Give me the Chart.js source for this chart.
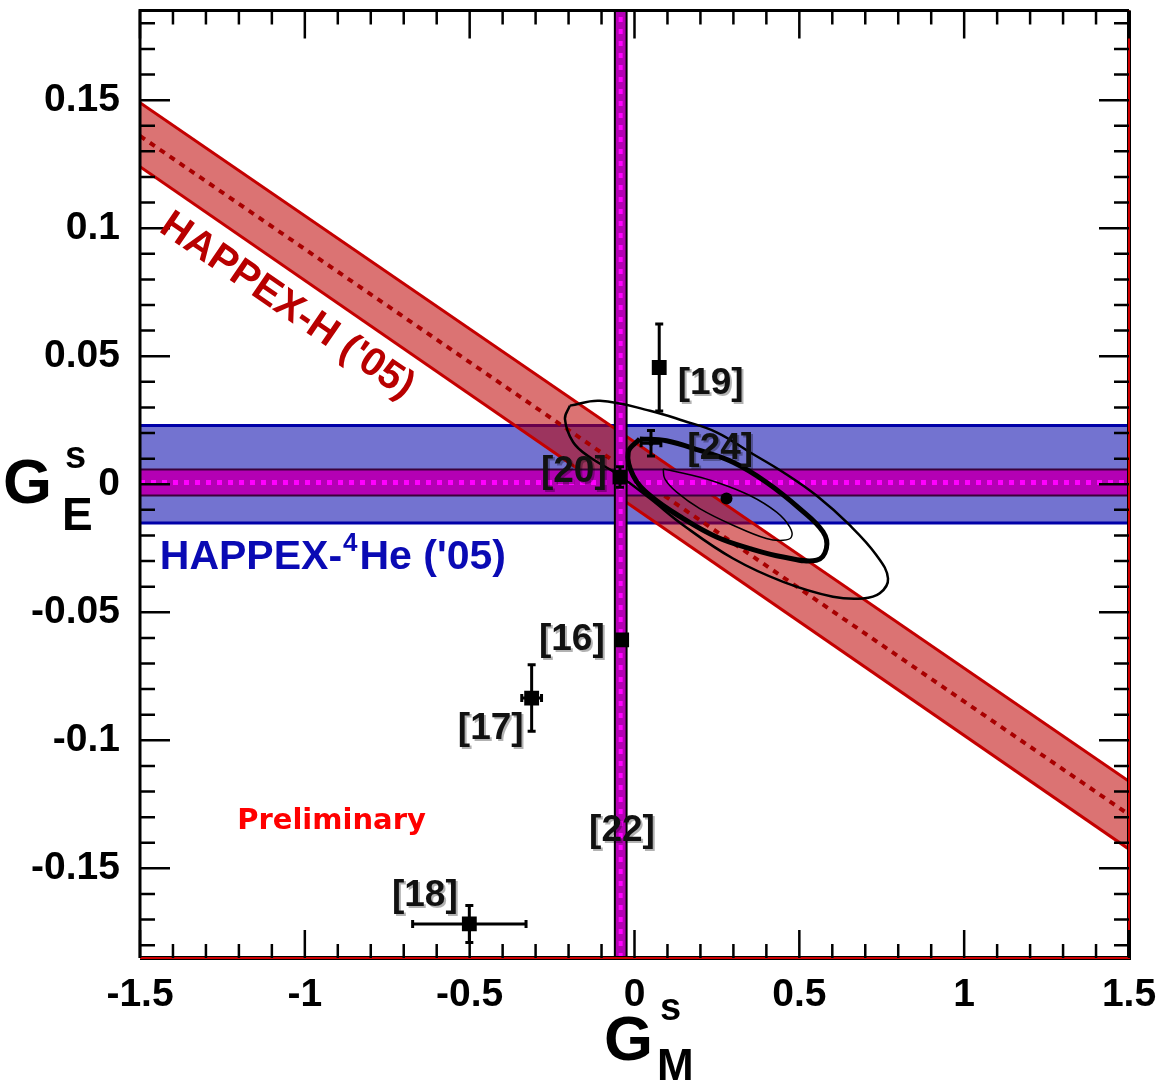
<!DOCTYPE html>
<html>
<head>
<meta charset="utf-8">
<script src="https://cdn.jsdelivr.net/npm/chart.js@4.4.1/dist/chart.umd.min.js"></script>
<style>
  html, body { margin: 0; padding: 0; background: #fff; }
  #wrap { width: 1159px; height: 1083px; }
</style>
</head>
<body>
<div id="wrap"><canvas id="myChart" width="1159" height="1083"></canvas></div>
<script>
// axes
const gmRange = [-1.5, 1.5];
const geRange = [-0.185, 0.185];
const gmTicks = [-1.5, -1, -0.5, 0, 0.5, 1, 1.5];
const gmTickLabels = ['-1.5', '-1', '-0.5', '0', '0.5', '1', '1.5'];
const geTicks = [-0.15, -0.1, -0.05, 0, 0.05, 0.1, 0.15];
const geTickLabels = ['-0.15', '-0.1', '-0.05', '0', '0.05', '0.1', '0.15'];

// HAPPEX-H ('05) band, GE at the two GM ends
const hydrogenGM = [-1.5, 1.5];
const hydrogenUpper = [0.149, -0.116];
const hydrogenCentral = [0.136, -0.129];
const hydrogenLower = [0.124, -0.1425];

// horizontal bands: low, central, high
const helium05 = [-0.0151, 0.0039, 0.0229];
const helium07 = [-0.0044, 0.0007, 0.0058];
// vertical band [22]: low, central, high GM
const gmBand22 = [-0.0596, -0.042, -0.024];

// other measurements
const refNames = ['[16]', '[17]', '[18]', '[19]', '[20]', '[24]'];
const refGM = [-0.039, -0.312, -0.501, 0.075, -0.044, 0.05];
const refGE = [-0.0608, -0.0835, -0.1717, 0.0456, 0.0028, 0.016];
const refErrGM = [0, 0.03, 0.172, 0, 0, 0.03];
const refErrGE = [0, 0.013, 0.0072, 0.017, 0.004, 0.005];

// combined fit
const fitGM = [0.279];
const fitGE = [-0.0056];

// contours
const outerGM = [-0.196, -0.105, 0.047, 0.148, 0.249, 0.350, 0.451, 0.552, 0.653, 0.734, 0.769, 0.744, 0.693, 0.602, 0.451, 0.299, 0.148, 0.047, -0.054, -0.135, -0.186, -0.211, -0.196];
const outerGE = [0.0307, 0.0326, 0.0287, 0.0248, 0.0203, 0.0125, 0.0047, -0.0044, -0.016, -0.0277, -0.0368, -0.0426, -0.0446, -0.0439, -0.0381, -0.029, -0.016, -0.0056, 0.0041, 0.0105, 0.0164, 0.0255, 0.0307];
const midGM = [0.016, 0.097, 0.198, 0.299, 0.400, 0.501, 0.572, 0.582, 0.552, 0.451, 0.350, 0.249, 0.148, 0.047, -0.004, -0.019, 0.016];
const midGE = [0.0177, 0.017, 0.0132, 0.0086, 0.0008, -0.0095, -0.0186, -0.0251, -0.0297, -0.0284, -0.0251, -0.0206, -0.0134, -0.0044, 0.0034, 0.0125, 0.0177];
const innerGM = [0.087, 0.168, 0.249, 0.350, 0.431, 0.471, 0.476, 0.451, 0.400, 0.299, 0.198, 0.128, 0.092, 0.087];
const innerGE = [0.006, 0.0037, 0.0008, -0.0044, -0.0109, -0.0167, -0.0206, -0.0219, -0.0212, -0.016, -0.0095, -0.0031, 0.0021, 0.006];

// text labels, placed in data coordinates
const labelText = ['[16]', '[17]', '[18]', '[19]', '[20]', '[24]', '[22]'];
const labelGM = [-0.190, -0.436, -0.636, 0.231, -0.184, 0.260, -0.038];
const labelGE = [-0.0608, -0.0954, -0.1608, 0.0394, 0.005, 0.0139, -0.1355];

function pts(gm, ge) {
    return gm.map((v, i) => ({x: v, y: ge[i]}));
}

function band(data, fill, order) {
    return {data: data, showLine: true, fill: 'shape', backgroundColor: fill,
            borderColor: 'rgba(0,0,0,0)', borderWidth: 0, pointRadius: 0, order: order};
}

function edge(data, color, width, dash, order) {
    return {data: data, showLine: true, fill: false, borderColor: color, borderWidth: width,
            borderDash: dash || [], pointRadius: 0, order: order};
}

function contour(gm, ge, width) {
    return {data: pts(gm, ge), showLine: true, fill: false, borderColor: '#000', borderWidth: width,
            tension: 0.4, pointRadius: 0, order: 5};
}

const H = hydrogenGM;

// higher order is drawn first: blue band, then red band, then the magenta bands
let datasets = [
    band(pts([gmRange[0], gmRange[1], gmRange[1], gmRange[0]], [helium05[2], helium05[2], helium05[0], helium05[0]]), 'rgba(0,0,170,0.55)', 31),
    edge(pts(gmRange, [helium05[2], helium05[2]]), '#0000a8', 3, null, 30),
    edge(pts(gmRange, [helium05[0], helium05[0]]), '#0000a8', 3, null, 30),

    band(pts([H[0], H[1], H[1], H[0]], [hydrogenUpper[0], hydrogenUpper[1], hydrogenLower[1], hydrogenLower[0]]), 'rgba(190,0,0,0.55)', 29),
    edge(pts(H, hydrogenUpper), '#c40000', 3, null, 28),
    edge(pts(H, hydrogenLower), '#c40000', 3, null, 28),
    edge(pts(H, hydrogenCentral), '#a80000', 4, [6, 6], 27),

    band(pts([gmRange[0], gmRange[1], gmRange[1], gmRange[0]], [helium07[2], helium07[2], helium07[0], helium07[0]]), '#b400b4', 25),
    edge(pts(gmRange, [helium07[2], helium07[2]]), '#3a003a', 2, null, 24),
    edge(pts(gmRange, [helium07[0], helium07[0]]), '#3a003a', 2, null, 24),
    edge(pts(gmRange, [helium07[1], helium07[1]]), '#ff00ff', 5, [5, 6], 23),

    band(pts([gmBand22[0], gmBand22[0], gmBand22[2], gmBand22[2]], [geRange[0], geRange[1], geRange[1], geRange[0]]), '#b400b4', 22),
    edge(pts([gmBand22[0], gmBand22[0]], geRange), '#000', 2, null, 21),
    edge(pts([gmBand22[2], gmBand22[2]], geRange), '#000', 2, null, 21),
    edge(pts([gmBand22[1], gmBand22[1]], geRange), '#ff00ff', 4, [5, 7], 20),

    contour(outerGM, outerGE, 2.5),
    contour(midGM, midGE, 5),
    contour(innerGM, innerGE, 1.5),

    {data: pts(refGM, refGE), showLine: false, pointStyle: 'rect', pointRadius: [10.5, 10.5, 10.5, 10.5, 10.5, 3],
     backgroundColor: '#000', borderWidth: 0, order: 1},
    {data: pts(fitGM, fitGE), showLine: false, pointStyle: 'circle', pointRadius: 6,
     backgroundColor: '#000', borderWidth: 0, order: 1}
];

function text(ctx, s, x, y, font, color, align, base) {
    ctx.font = font;
    ctx.fillStyle = color;
    ctx.textAlign = align || 'center';
    ctx.textBaseline = base || 'middle';
    ctx.fillText(s, x, y);
}

const decorations = {
    id: 'decorations',
    afterDatasetsDraw(chart) {
        const ctx = chart.ctx;
        const a = chart.chartArea;
        const x = chart.scales.x;
        const y = chart.scales.y;
        ctx.save();

        // error bars
        ctx.strokeStyle = '#000';
        ctx.lineWidth = 3;
        refGM.forEach((gm, i) => {
            let px = x.getPixelForValue(gm);
            let py = y.getPixelForValue(refGE[i]);
            if (refErrGE[i] > 0) {
                let y1 = y.getPixelForValue(refGE[i] + refErrGE[i]);
                let y2 = y.getPixelForValue(refGE[i] - refErrGE[i]);
                ctx.beginPath();
                ctx.moveTo(px, y1); ctx.lineTo(px, y2);
                ctx.moveTo(px - 4, y1); ctx.lineTo(px + 4, y1);
                ctx.moveTo(px - 4, y2); ctx.lineTo(px + 4, y2);
                ctx.stroke();
            }
            if (refErrGM[i] > 0) {
                let x1 = x.getPixelForValue(gm - refErrGM[i]);
                let x2 = x.getPixelForValue(gm + refErrGM[i]);
                ctx.beginPath();
                ctx.moveTo(x1, py); ctx.lineTo(x2, py);
                ctx.moveTo(x1, py - 4); ctx.lineTo(x1, py + 4);
                ctx.moveTo(x2, py - 4); ctx.lineTo(x2, py + 4);
                ctx.stroke();
            }
        });

        // frame
        ctx.lineWidth = 3;
        ctx.strokeStyle = '#000';
        ctx.beginPath();
        ctx.moveTo(a.left, a.bottom); ctx.lineTo(a.left, a.top); ctx.lineTo(a.right, a.top);
        ctx.stroke();
        ctx.lineWidth = 4;
        ctx.beginPath();
        ctx.moveTo(a.left, a.bottom); ctx.lineTo(a.right, a.bottom); ctx.lineTo(a.right, a.top);
        ctx.stroke();
        ctx.strokeStyle = '#d00000';
        ctx.lineWidth = 2;
        ctx.stroke();

        // inward ticks on all four sides
        ctx.strokeStyle = '#000';
        ctx.lineWidth = 2.5;
        ctx.beginPath();
        for (let k = -15; k <= 15; k++) {
            let px = x.getPixelForValue(k / 10);
            let len = (k % 5 === 0) ? 28 : 14;
            ctx.moveTo(px, a.bottom); ctx.lineTo(px, a.bottom - len);
            ctx.moveTo(px, a.top); ctx.lineTo(px, a.top + len);
        }
        for (let k = -18; k <= 18; k++) {
            let py = y.getPixelForValue(k / 100);
            let len = (k % 5 === 0) ? 30 : 15;
            ctx.moveTo(a.left, py); ctx.lineTo(a.left + len, py);
            ctx.moveTo(a.right, py); ctx.lineTo(a.right - len, py);
        }
        ctx.stroke();

        // reference labels
        ctx.shadowColor = 'rgba(0,0,0,0.3)';
        ctx.shadowOffsetX = 2;
        ctx.shadowOffsetY = 2;
        labelText.forEach((s, i) => {
            text(ctx, s, x.getPixelForValue(labelGM[i]), y.getPixelForValue(labelGE[i]),
                 'bold 37px "Liberation Sans"', '#111');
        });
        ctx.shadowColor = 'transparent';

        // HAPPEX-H label along the band
        let bx1 = x.getPixelForValue(H[0]), by1 = y.getPixelForValue(hydrogenCentral[0]);
        let bx2 = x.getPixelForValue(H[1]), by2 = y.getPixelForValue(hydrogenCentral[1]);
        ctx.save();
        ctx.translate(x.getPixelForValue(-1.054), y.getPixelForValue(0.0696));
        ctx.rotate(Math.atan2(by2 - by1, bx2 - bx1));
        text(ctx, "HAPPEX-H ('05)", 0, 0, 'bold 40px "Liberation Sans"', '#b80000');
        ctx.restore();

        // HAPPEX-4He label
        let hx = x.getPixelForValue(-1.44);
        let hy = y.getPixelForValue(-0.0329);
        ctx.font = 'bold 41px "Liberation Sans"';
        let w1 = ctx.measureText('HAPPEX-').width;
        text(ctx, 'HAPPEX-', hx, hy, 'bold 41px "Liberation Sans"', '#0a0ab4', 'left', 'alphabetic');
        text(ctx, '4', hx + w1 + 1, hy - 18, 'bold 26px "Liberation Sans"', '#0a0ab4', 'left', 'alphabetic');
        ctx.font = 'bold 26px "Liberation Sans"';
        let w2 = ctx.measureText('4').width;
        text(ctx, "He ('05)", hx + w1 + w2 + 3, hy, 'bold 41px "Liberation Sans"', '#0a0ab4', 'left', 'alphabetic');

        text(ctx, 'Preliminary', x.getPixelForValue(-0.919), y.getPixelForValue(-0.1316),
             'bold 29px "DejaVu Sans"', '#ff0000');

        ctx.restore();
    },
    afterDraw(chart) {
        const ctx = chart.ctx;
        ctx.save();
        // axis titles
        text(ctx, 'G', 3, 503, 'bold 63px "Liberation Sans"', '#000', 'left', 'alphabetic');
        text(ctx, 's', 65, 468, 'bold 38px "Liberation Sans"', '#000', 'left', 'alphabetic');
        text(ctx, 'E', 62, 530, 'bold 46px "Liberation Sans"', '#000', 'left', 'alphabetic');
        text(ctx, 'G', 604, 1060, 'bold 63px "Liberation Sans"', '#000', 'left', 'alphabetic');
        text(ctx, 's', 660, 1020, 'bold 38px "Liberation Sans"', '#000', 'left', 'alphabetic');
        text(ctx, 'M', 657, 1080, 'bold 44px "Liberation Sans"', '#000', 'left', 'alphabetic');
        ctx.restore();
    }
};

Chart.defaults.font.family = '"Liberation Sans", Arial, sans-serif';
Chart.defaults.color = '#000';

let myChart = new Chart(document.getElementById('myChart'), {
    type: 'scatter',
    data: {datasets: datasets},
    options: {
        responsive: false,
        animation: false,
        events: [],
        layout: {padding: {left: 0, top: 8, right: 30, bottom: 0}},
        plugins: {legend: {display: false}, tooltip: {enabled: false}},
        scales: {
            x: {
                type: 'linear', min: gmRange[0], max: gmRange[1],
                grid: {display: false}, border: {display: false},
                ticks: {autoSkip: false, maxRotation: 0, padding: 6, color: '#000',
                        font: {size: 39, weight: 'bold'},
                        callback: v => gmTickLabels[gmTicks.indexOf(v)]},
                afterBuildTicks: s => { s.ticks = gmTicks.map(v => ({value: v})); },
                afterFit: s => { s.height = 125; s.paddingLeft = 0; s.paddingRight = 0; }
            },
            y: {
                type: 'linear', min: geRange[0], max: geRange[1],
                grid: {display: false}, border: {display: false},
                ticks: {autoSkip: false, padding: 12, color: '#000',
                        font: {size: 39, weight: 'bold'},
                        callback: v => geTickLabels[geTicks.indexOf(v)]},
                afterBuildTicks: s => { s.ticks = geTicks.map(v => ({value: v})); },
                afterFit: s => { s.width = 140; s.paddingTop = 0; s.paddingBottom = 0; }
            }
        }
    },
    plugins: [decorations]
});
</script>
</body>
</html>
